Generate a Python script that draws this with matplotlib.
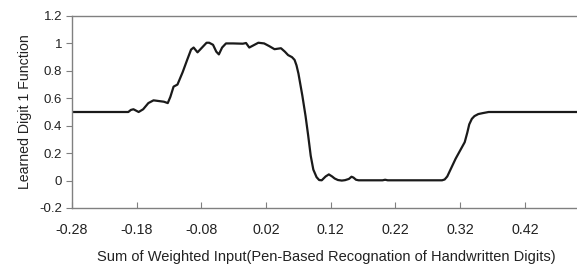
import matplotlib
matplotlib.use("Agg")
import matplotlib.pyplot as plt

# Data
x_vals = [-0.28, -0.193, -0.189, -0.185, -0.181, -0.177, -0.170, -0.162, -0.154, -0.146,
          -0.138, -0.132, -0.128, -0.123, -0.117, -0.109, -0.102, -0.096, -0.092, -0.086,
          -0.082, -0.078, -0.072, -0.068, -0.062, -0.057, -0.053, -0.048, -0.042, -0.031,
          -0.016, -0.011, -0.006, 0.000, 0.008, 0.017, 0.025, 0.033, 0.043, 0.049,
          0.054, 0.060, 0.064, 0.067, 0.070, 0.076, 0.081, 0.085, 0.089, 0.093,
          0.098, 0.102, 0.106, 0.112, 0.117, 0.122, 0.126, 0.131, 0.137, 0.142,
          0.148, 0.152, 0.155, 0.159, 0.163, 0.200, 0.204, 0.208, 0.292, 0.296,
          0.300, 0.306, 0.313, 0.320, 0.327, 0.331, 0.334, 0.338, 0.342, 0.348,
          0.355, 0.364, 0.50]
y_vals = [0.50, 0.50, 0.515, 0.52, 0.51, 0.50, 0.52, 0.565, 0.585, 0.58,
          0.575, 0.565, 0.61, 0.685, 0.70, 0.79, 0.88, 0.955, 0.97, 0.935,
          0.955, 0.975, 1.005, 1.005, 0.99, 0.94, 0.92, 0.97, 1.00, 1.00,
          0.998, 1.003, 0.97, 0.985, 1.005, 1.00, 0.98, 0.958, 0.965, 0.94,
          0.915, 0.90, 0.88, 0.84, 0.78, 0.62, 0.47, 0.33, 0.18, 0.08,
          0.025, 0.004, 0.002, 0.03, 0.045, 0.03, 0.015, 0.004, 0.0, 0.003,
          0.012, 0.028, 0.022, 0.006, 0.002, 0.002, 0.006, 0.002, 0.002, 0.008,
          0.03, 0.09, 0.16, 0.22, 0.28, 0.35, 0.41, 0.45, 0.47, 0.485,
          0.492, 0.50, 0.50]

x_ticks = [-0.28, -0.18, -0.08, 0.02, 0.12, 0.22, 0.32, 0.42]
x_tick_labels = ["-0.28", "-0.18", "-0.08", "0.02", "0.12", "0.22", "0.32", "0.42"]
y_ticks = [-0.2, 0, 0.2, 0.4, 0.6, 0.8, 1.0, 1.2]
y_tick_labels = ["-0.2", "0", "0.2", "0.4", "0.6", "0.8", "1", "1.2"]

plt.rcParams['font.family'] = ['Liberation Sans', 'DejaVu Sans']

fig = plt.figure(figsize=(5.77, 2.66), dpi=100)
ax = fig.add_axes([72/577, (266-208)/266, 1 - 72/577 + 0.005, 192/266])

ax.plot(x_vals, y_vals, color='#1a1a1a', linewidth=1.6, solid_joinstyle='round')

ax.set_xlim(-0.28, 0.505)
ax.set_ylim(-0.2, 1.2)
ax.set_xticks(x_ticks)
ax.set_xticklabels(x_tick_labels)
ax.set_yticks(y_ticks)
ax.set_yticklabels(y_tick_labels)

for s in ['left', 'top', 'bottom']:
    ax.spines[s].set_color('#808080')
    ax.spines[s].set_linewidth(1.0)
ax.spines['right'].set_visible(False)

ax.tick_params(axis='x', direction='in', length=4, color='#808080', labelsize=10.3,
               labelcolor='#222222', pad=11)
ax.tick_params(axis='y', direction='out', length=4, color='#808080', labelsize=9.5,
               labelcolor='#222222', pad=3)

ax.set_xlabel("Sum of Weighted Input(Pen-Based Recognation of Handwritten Digits)",
              fontsize=10.5, color='#222222', labelpad=9)
ax.set_ylabel("Learned Digit 1 Function", fontsize=10.2, color='#222222', labelpad=5)

fig.savefig("out.png", dpi=100)
